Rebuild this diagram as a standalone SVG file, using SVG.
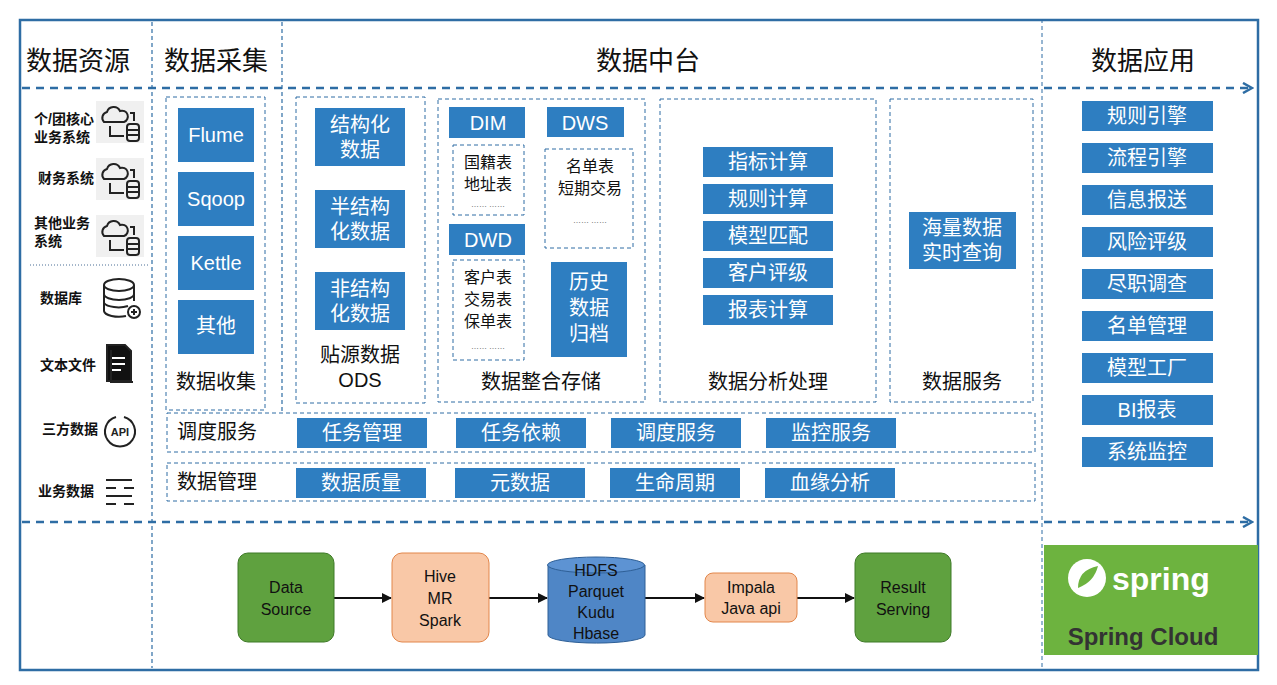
<svg xmlns="http://www.w3.org/2000/svg" width="1277" height="685" viewBox="0 0 1277 685">
<defs>
<style>
.t{font-family:"Liberation Sans","Noto Sans CJK SC",sans-serif}
.b{fill:#2e7ec1}
.w{fill:#fff;font-size:20px;text-anchor:middle;font-family:"Liberation Sans","Noto Sans CJK SC",sans-serif}
.k{fill:#111;font-size:20px;text-anchor:middle;font-family:"Liberation Sans","Noto Sans CJK SC",sans-serif}
.h{fill:#111;font-size:26px;text-anchor:middle;font-family:"Liberation Sans","Noto Sans CJK SC",sans-serif}
.s{fill:#111;font-size:14px;font-weight:bold;font-family:"Liberation Sans","Noto Sans CJK SC",sans-serif}
.d{fill:none;stroke:#2e6da4;stroke-width:1;stroke-dasharray:4 3}
.vd{stroke:#2e6da4;stroke-width:1.2;stroke-dasharray:4 3}
.ic{fill:none;stroke:#222;stroke-width:2}
.f{font-size:16px;text-anchor:middle;fill:#111;font-family:"Liberation Sans","Noto Sans CJK SC",sans-serif}
.dot{font-size:8px;text-anchor:middle;fill:#333;font-family:"Liberation Sans",sans-serif}
</style>
<marker id="ah" markerWidth="12" markerHeight="12" refX="10" refY="6" orient="auto" markerUnits="userSpaceOnUse"><path d="M1,1 L10,6 L1,11" fill="none" stroke="#2e6da4" stroke-width="2.5"/></marker>
<marker id="ab" markerWidth="10" markerHeight="10" refX="9" refY="5" orient="auto" markerUnits="userSpaceOnUse"><path d="M0,0 L10,5 L0,10 z" fill="#111"/></marker>
</defs>
<rect width="1277" height="685" fill="#fff"/>
<rect x="20" y="20" width="1238" height="650" fill="none" stroke="#2e6da4" stroke-width="2.5"/>
<rect x="1042" y="20" width="216" height="650" fill="none" stroke="#2e6da4" stroke-width="1" stroke-dasharray="4 3"/>
<line class="vd" x1="152" y1="22" x2="152" y2="668"/>
<line class="vd" x1="282" y1="22" x2="282" y2="412"/>
<line x1="30" y1="265" x2="150" y2="265" stroke="#4a6f96" stroke-dasharray="1 2"/>

<g id="connectors">
<line x1="22" y1="88" x2="1252" y2="88" stroke="#2e6da4" stroke-width="2.5" stroke-dasharray="8 6" marker-end="url(#ah)"/>
<line x1="22" y1="522" x2="1252" y2="522" stroke="#2e6da4" stroke-width="2.5" stroke-dasharray="8 6" marker-end="url(#ah)"/>
<line x1="334" y1="598" x2="391" y2="598" stroke="#111" stroke-width="2" marker-end="url(#ab)"/>
<line x1="489" y1="598" x2="547" y2="598" stroke="#111" stroke-width="2" marker-end="url(#ab)"/>
<line x1="645" y1="598" x2="704" y2="598" stroke="#111" stroke-width="2" marker-end="url(#ab)"/>
<line x1="797" y1="598" x2="854" y2="598" stroke="#111" stroke-width="2" marker-end="url(#ab)"/>
</g>

<g id="headers">
<text x="78" y="70" class="h">数据资源</text>
<text x="216" y="70" class="h">数据采集</text>
<text x="648" y="70" class="h">数据中台</text>
<text x="1143" y="70" class="h">数据应用</text>
</g>

<g id="sources">
<text x="34" y="124" class="s">个/团核心</text><text x="34" y="142" class="s">业务系统</text>
<text x="38" y="183" class="s">财务系统</text>
<text x="34" y="228" class="s">其他业务</text><text x="34" y="246" class="s">系统</text>
<g class="ic" stroke-width="1.6">
<rect x="96" y="101" width="48" height="42" fill="#f0f0f0" stroke="none"/>
<rect x="96" y="158" width="48" height="42" fill="#f0f0f0" stroke="none"/>
<rect x="96" y="215" width="48" height="42" fill="#f0f0f0" stroke="none"/>
<g id="cl1"><path d="M104,122 a6,6 0 0 1 3,-10 a7,7 0 0 1 13,-1 a5,5 0 0 1 4,11 z"/><path d="M110,126 v10 h14 M130,113 h4 v8"/><rect x="127" y="124" width="12" height="17" rx="3"/><path d="M127,130 h12 M127,135 h12"/></g>
<use href="#cl1" y="57"/><use href="#cl1" y="114"/>
</g>
<text x="40" y="303" class="s">数据库</text>
<text x="40" y="370" class="s">文本文件</text>
<text x="42" y="434" class="s">三方数据</text>
<text x="38" y="496" class="s">业务数据</text>
<g class="ic">
<ellipse cx="119" cy="285" rx="15" ry="6"/><path d="M104,285 v26 a15,6 0 0 0 22,5 M134,285 v16 M104,294 a15,6 0 0 0 30,0 M104,303 a15,6 0 0 0 24,3"/><circle cx="134" cy="312" r="6"/><path d="M134,309 v6 M131,312 h6"/>
<path d="M107,345 h18 l6,6 v30 h-24 z" fill="#111"/><path d="M111,350 v32 h22" /><path d="M112,358 h13 M112,364 h13 M112,370 h9" stroke="#fff"/>
<path d="M116,417 a15,15 0 1 0 8,0"/><text x="120" y="436" font-size="11" font-weight="bold" text-anchor="middle" fill="#222" stroke="none" class="t">API</text>
<path d="M106,480 h26 M106,488 h10 M124,488 h10 M106,496 h26 M106,504 h10 M124,504 h10"/>
</g>
</g>

<g id="collect">
<rect x="166" y="97" width="99" height="313" class="d"/>
<rect x="178" y="108" width="76" height="54" class="b"/><text x="216" y="142" class="w">Flume</text>
<rect x="178" y="172" width="76" height="54" class="b"/><text x="216" y="206" class="w">Sqoop</text>
<rect x="178" y="236" width="76" height="54" class="b"/><text x="216" y="270" class="w">Kettle</text>
<rect x="178" y="300" width="76" height="54" class="b"/><text x="216" y="333" class="w">其他</text>
<text x="216" y="389" class="k">数据收集</text>
</g>

<g id="ods">
<rect x="296" y="97" width="129" height="306" class="d"/>
<rect x="315" y="108" width="90" height="58" class="b"/><text x="360" y="132" class="w">结构化</text><text x="360" y="157" class="w">数据</text>
<rect x="315" y="190" width="90" height="58" class="b"/><text x="360" y="214" class="w">半结构</text><text x="360" y="239" class="w">化数据</text>
<rect x="315" y="272" width="90" height="58" class="b"/><text x="360" y="296" class="w">非结构</text><text x="360" y="321" class="w">化数据</text>
<text x="360" y="362" class="k">贴源数据</text><text x="360" y="387" class="k">ODS</text>
</g>

<g id="store">
<rect x="438" y="99" width="207" height="303" class="d"/>
<rect x="449" y="107" width="76" height="31" class="b"/><text x="488" y="130" class="w">DIM</text>
<rect x="547" y="107" width="77" height="30" class="b"/><text x="585" y="130" class="w">DWS</text>
<rect x="453" y="145" width="71" height="70" class="d"/><text x="488" y="168" class="f">国籍表</text><text x="488" y="190" class="f">地址表</text><text x="488" y="207" class="dot">…… ……</text>
<rect x="545" y="149" width="88" height="99" class="d"/><text x="590" y="172" class="f">名单表</text><text x="590" y="194" class="f">短期交易</text><text x="590" y="223" class="dot">…… ……</text>
<rect x="449" y="224" width="76" height="31" class="b"/><text x="488" y="247" class="w">DWD</text>
<rect x="453" y="260" width="71" height="100" class="d"/><text x="488" y="283" class="f">客户表</text><text x="488" y="305" class="f">交易表</text><text x="488" y="327" class="f">保单表</text><text x="488" y="349" class="dot">…… ……</text>
<rect x="551" y="262" width="76" height="95" class="b"/><text x="589" y="289" class="w">历史</text><text x="589" y="315" class="w">数据</text><text x="589" y="341" class="w">归档</text>
<text x="541" y="389" class="k">数据整合存储</text>
</g>

<g id="analysis">
<rect x="660" y="99" width="216" height="303" class="d"/>
<rect x="703" y="147" width="130" height="30" class="b"/><text x="768" y="169" class="w">指标计算</text>
<rect x="703" y="184" width="130" height="30" class="b"/><text x="768" y="206" class="w">规则计算</text>
<rect x="703" y="221" width="130" height="30" class="b"/><text x="768" y="243" class="w">模型匹配</text>
<rect x="703" y="258" width="130" height="30" class="b"/><text x="768" y="280" class="w">客户评级</text>
<rect x="703" y="295" width="130" height="30" class="b"/><text x="768" y="317" class="w">报表计算</text>
<text x="768" y="389" class="k">数据分析处理</text>
</g>

<g id="service">
<rect x="890" y="99" width="143" height="303" class="d"/>
<rect x="909" y="212" width="107" height="57" class="b"/><text x="962" y="235" class="w">海量数据</text><text x="962" y="260" class="w">实时查询</text>
<text x="962" y="389" class="k">数据服务</text>
</g>

<g id="schedule">
<rect x="167" y="413" width="868" height="39" class="d"/>
<text x="217" y="439" class="k">调度服务</text>
<rect x="297" y="418" width="130" height="30" class="b"/><text x="362" y="440" class="w">任务管理</text>
<rect x="456" y="418" width="130" height="30" class="b"/><text x="521" y="440" class="w">任务依赖</text>
<rect x="611" y="418" width="130" height="30" class="b"/><text x="676" y="440" class="w">调度服务</text>
<rect x="766" y="418" width="130" height="30" class="b"/><text x="831" y="440" class="w">监控服务</text>
</g>
<g id="manage">
<rect x="167" y="463" width="868" height="38" class="d"/>
<text x="217" y="489" class="k">数据管理</text>
<rect x="296" y="468" width="130" height="30" class="b"/><text x="361" y="490" class="w">数据质量</text>
<rect x="455" y="468" width="130" height="30" class="b"/><text x="520" y="490" class="w">元数据</text>
<rect x="610" y="468" width="130" height="30" class="b"/><text x="675" y="490" class="w">生命周期</text>
<rect x="765" y="468" width="130" height="30" class="b"/><text x="830" y="490" class="w">血缘分析</text>
</g>

<g id="apps">
<rect x="1082" y="101" width="131" height="30" class="b"/><text x="1147" y="123" class="w">规则引擎</text>
<rect x="1082" y="143" width="131" height="30" class="b"/><text x="1147" y="165" class="w">流程引擎</text>
<rect x="1082" y="185" width="131" height="30" class="b"/><text x="1147" y="207" class="w">信息报送</text>
<rect x="1082" y="227" width="131" height="30" class="b"/><text x="1147" y="249" class="w">风险评级</text>
<rect x="1082" y="269" width="131" height="30" class="b"/><text x="1147" y="291" class="w">尽职调查</text>
<rect x="1082" y="311" width="131" height="30" class="b"/><text x="1147" y="333" class="w">名单管理</text>
<rect x="1082" y="353" width="131" height="30" class="b"/><text x="1147" y="375" class="w">模型工厂</text>
<rect x="1082" y="395" width="131" height="30" class="b"/><text x="1147" y="417" class="w">BI报表</text>
<rect x="1082" y="437" width="131" height="30" class="b"/><text x="1147" y="459" class="w">系统监控</text>
</g>

<g id="spring">
<rect x="1044" y="545" width="214" height="110" fill="#6db33f"/>
<circle cx="1087" cy="578" r="19" fill="#fff"/>
<path d="M1078,588 q0,-18 20,-22 q-4,16 -20,22" fill="#6db33f"/>
<text x="1112" y="590" font-size="32" font-weight="bold" fill="#fff" class="t">spring</text>
<text x="1143" y="645" font-size="24" font-weight="bold" fill="#333" text-anchor="middle" class="t">Spring Cloud</text>
</g>

<g id="flow">
<rect x="238" y="553" width="96" height="89" rx="10" fill="#5fa13f" stroke="#3f7a28"/><text x="286" y="593" class="f" font-size="17">Data</text><text x="286" y="615" class="f" font-size="17">Source</text>
<rect x="392" y="553" width="97" height="89" rx="10" fill="#f9c8a7" stroke="#e2864a"/><text x="440" y="582" class="f" font-size="17">Hive</text><text x="440" y="604" class="f" font-size="17">MR</text><text x="440" y="626" class="f" font-size="17">Spark</text>
<path d="M548,565 v70 a48,8 0 0 0 97,0 v-70" fill="#4f86c6" stroke="#2e5f96"/><ellipse cx="596" cy="565" rx="48.5" ry="8" fill="#5d93d3" stroke="#2e5f96"/>
<text x="596" y="576" class="f" font-size="17">HDFS</text><text x="596" y="597" class="f" font-size="17">Parquet</text><text x="596" y="618" class="f" font-size="17">Kudu</text><text x="596" y="639" class="f" font-size="17">Hbase</text>
<rect x="705" y="573" width="92" height="49" rx="8" fill="#f9c8a7" stroke="#e2864a"/><text x="751" y="593" class="f" font-size="17">Impala</text><text x="751" y="614" class="f" font-size="17">Java api</text>
<rect x="855" y="553" width="96" height="89" rx="10" fill="#5fa13f" stroke="#3f7a28"/><text x="903" y="593" class="f" font-size="17">Result</text><text x="903" y="615" class="f" font-size="17">Serving</text>
</g>
</svg>
